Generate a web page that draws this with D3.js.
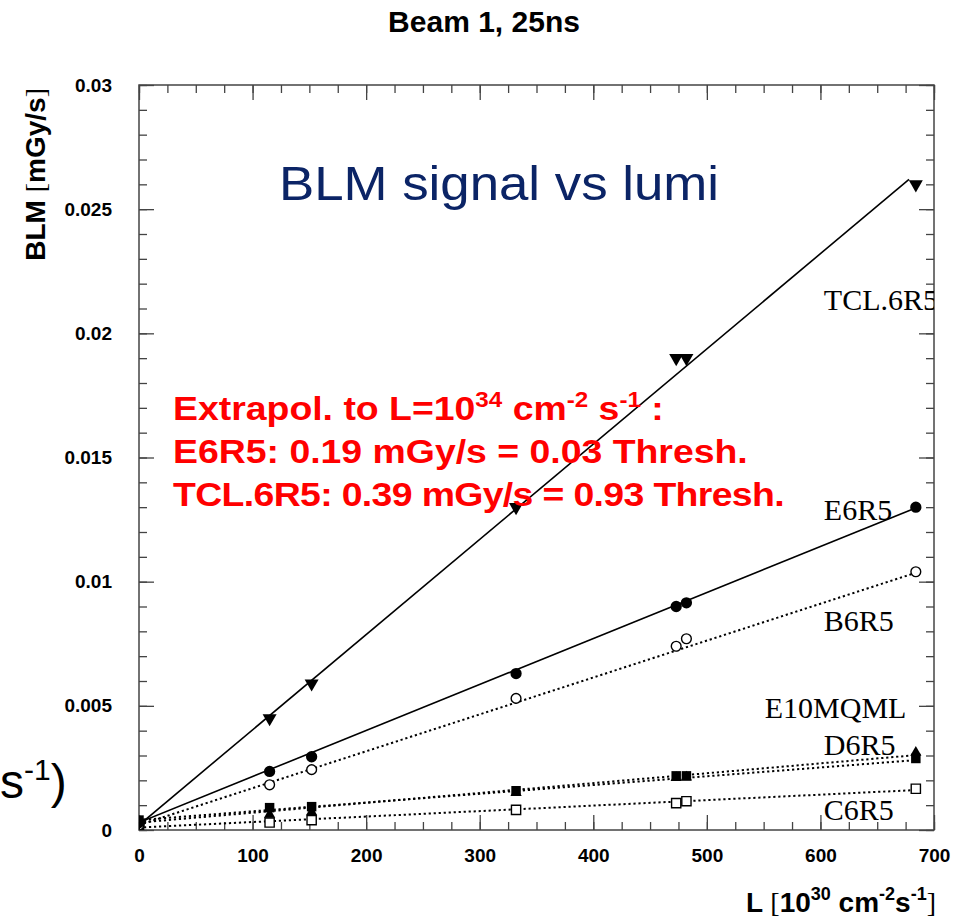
<!DOCTYPE html>
<meta charset="utf-8">
<style>
  body { margin: 0; background: #fff; }
  text { font-family: "Liberation Sans", Arial, sans-serif; }
  .tick text { font: bold 19px "Liberation Sans", Arial, sans-serif; fill: #000; }
  .tick line { stroke: #444; stroke-width: 1.3; }
  .lbl { font: 30px "Liberation Serif", "Times New Roman", serif; fill: #000; }
</style>
<svg width="966" height="918"></svg>
<script src="https://d3js.org/d3.v7.min.js"></script>
<script>

// luminosity [10^30 cm^-2 s^-1]
var lumi = [0, 115, 152, 332, 473, 482, 684];

// BLM signal [mGy/s] per monitor
var tcl6r5  = [0.0003, 0.0045, 0.0059, 0.0130, 0.0190, 0.0190, 0.0260];
var e6r5    = [0.0003, 0.00236, 0.00295, 0.0063, 0.0090, 0.00915, 0.0130];
var b6r5    = [0.0002, 0.00182, 0.00243, 0.0053, 0.0074, 0.0077, 0.0104];
var d6r5    = [0.0004, 0.00090, 0.00094, 0.00158, 0.00218, 0.00218, 0.00288];
var e10mqml = [0.0003, 0.00062, 0.00072, 0.00150, 0.00210, 0.00212, 0.00312];
var c6r5    = [0.0002, 0.00030, 0.00040, 0.00081, 0.00108, 0.00116, 0.00166];

// linear fits: [L start, value, L end, value]
var fitTcl  = [0, 0.0002, 678, 0.0262];
var fitE6   = [0, 0.0003, 680, 0.0129];
var fitB6   = [0, 0.0002, 680, 0.0103];
var fitD6   = [0, 0.0004, 680, 0.0028];
var fitE10  = [0, 0.0003, 680, 0.0030];
var fitC6   = [0, 0.0001, 680, 0.0016];

var xTicks = [0, 100, 200, 300, 400, 500, 600, 700];
var yTicks = [0, 0.005, 0.01, 0.015, 0.02, 0.025, 0.03];
var yTickLabels = ["0", "0.005", "0.01", "0.015", "0.02", "0.025", "0.03"];

var series = [
  {name: "TCL.6R5", values: tcl6r5,  fit: fitTcl, marker: "triDown",   dotted: false, at: [603, 0.02094]},
  {name: "E6R5",    values: e6r5,    fit: fitE6,  marker: "circle",    dotted: false, at: [603, 0.01250]},
  {name: "B6R5",    values: b6r5,    fit: fitB6,  marker: "openCircle", dotted: true, at: [603, 0.00800]},
  {name: "E10MQML", values: e10mqml, fit: fitE10, marker: "triUp",     dotted: true,  at: [551, 0.00452]},
  {name: "D6R5",    values: d6r5,    fit: fitD6,  marker: "square",    dotted: true,  at: [603, 0.00302]},
  {name: "C6R5",    values: c6r5,    fit: fitC6,  marker: "openSquare", dotted: true, at: [603, 0.00040]}
];

var svg = d3.select("svg"),
    margin = {top: 85, right: 32, bottom: 88, left: 139},
    width = +svg.attr("width"),
    height = +svg.attr("height");

var x = d3.scaleLinear()
    .domain([0, 700])
    .range([margin.left, width - margin.right]);

var y = d3.scaleLinear()
    .domain([0, 0.03])
    .range([height - margin.bottom, margin.top]);

svg.append("rect")
    .attr("width", width).attr("height", height)
    .attr("fill", "#fff");

svg.append("clipPath").attr("id", "plot")
  .append("rect")
    .attr("x", x(0)).attr("y", y(0.03))
    .attr("width", x(700) - x(0)).attr("height", y(0) - y(0.03));

// ticks, pointing inwards on all four sides
function noLabels(a) { return a.tickFormat(""); }

svg.append("g")
    .attr("transform", "translate(0," + y(0) + ")")
    .call(noLabels(d3.axisBottom(x).tickValues(d3.range(0, 701, 25)).tickSize(-8)));
svg.append("g")
    .attr("transform", "translate(0," + y(0) + ")")
    .call(d3.axisBottom(x).tickValues(xTicks).tickSize(-15).tickPadding(19));
svg.append("g")
    .attr("transform", "translate(0," + y(0.03) + ")")
    .call(noLabels(d3.axisTop(x).tickValues(d3.range(0, 701, 25)).tickSize(-8)));
svg.append("g")
    .attr("transform", "translate(0," + y(0.03) + ")")
    .call(noLabels(d3.axisTop(x).tickValues(xTicks).tickSize(-15)));

var yMinor = d3.range(0, 31).map(function(i) { return i / 1000; });

svg.append("g")
    .attr("transform", "translate(" + x(0) + ",0)")
    .call(noLabels(d3.axisLeft(y).tickValues(yMinor).tickSize(-8)));
svg.append("g")
    .attr("transform", "translate(" + x(0) + ",0)")
    .call(d3.axisLeft(y).tickValues(yTicks).tickSize(-15).tickPadding(27)
      .tickFormat(function(d, i) { return yTickLabels[i]; }));
svg.append("g")
    .attr("transform", "translate(" + x(700) + ",0)")
    .call(noLabels(d3.axisRight(y).tickValues(yMinor).tickSize(-8)));
svg.append("g")
    .attr("transform", "translate(" + x(700) + ",0)")
    .call(noLabels(d3.axisRight(y).tickValues(yTicks).tickSize(-15)));

svg.selectAll(".domain").remove();

svg.append("rect")
    .attr("x", x(0)).attr("y", y(0.03))
    .attr("width", x(700) - x(0)).attr("height", y(0) - y(0.03))
    .attr("fill", "none")
    .attr("stroke", "#444")
    .attr("stroke-width", 1.5);

var plot = svg.append("g").attr("clip-path", "url(#plot)");

// fit lines
plot.selectAll("line.fit")
  .data(series)
  .enter().append("line")
    .attr("class", "fit")
    .attr("x1", function(d) { return x(d.fit[0]); })
    .attr("y1", function(d) { return y(d.fit[1]); })
    .attr("x2", function(d) { return x(d.fit[2]); })
    .attr("y2", function(d) { return y(d.fit[3]); })
    .attr("stroke", "#000")
    .attr("stroke-width", function(d) { return d.dotted ? 2 : 1.6; })
    .attr("stroke-dasharray", function(d) { return d.dotted ? "2.2,2.8" : null; });

// markers
var triDown = d3.symbol().type(d3.symbolTriangle).size(85)();
var triUp = d3.symbol().type(d3.symbolTriangle).size(55)();

series.slice().reverse().forEach(function(s) {
  var g = plot.append("g");
  var pts = s.values.map(function(v, i) { return [lumi[i], v]; });
  var m = g.selectAll("path")
    .data(pts)
    .enter().append("path")
      .attr("transform", function(d) { return "translate(" + x(d[0]) + "," + y(d[1]) + ")"; });
  if (s.marker === "triDown") {
    m.attr("d", triDown).attr("transform", function(d) {
      return "translate(" + x(d[0]) + "," + y(d[1]) + ") rotate(180)"; }).attr("fill", "#000");
  } else if (s.marker === "triUp") {
    m.attr("d", triUp).attr("fill", "#000");
  } else if (s.marker === "circle") {
    m.attr("d", d3.symbol().type(d3.symbolCircle).size(100)()).attr("fill", "#000");
  } else if (s.marker === "openCircle") {
    m.attr("d", d3.symbol().type(d3.symbolCircle).size(75)())
      .attr("fill", "#fff").attr("stroke", "#000").attr("stroke-width", 1.4);
  } else if (s.marker === "square") {
    m.attr("d", d3.symbol().type(d3.symbolSquare).size(90)()).attr("fill", "#000");
  } else {
    m.attr("d", d3.symbol().type(d3.symbolSquare).size(85)())
      .attr("fill", "#fff").attr("stroke", "#000").attr("stroke-width", 1.4);
  }
});

// series names
plot.selectAll("text.lbl")
  .data(series)
  .enter().append("text")
    .attr("class", "lbl")
    .attr("x", function(d) { return x(d.at[0]); })
    .attr("y", function(d) { return y(d.at[1]); })
    .text(function(d) { return d.name; });

// titles
svg.append("text")
    .attr("x", 484).attr("y", 32)
    .attr("text-anchor", "middle")
    .style("font-weight", "bold").style("font-size", "30px")
    .text("Beam 1, 25ns");

svg.append("text")
    .attr("transform", "translate(279,200) scale(1.1,1)")
    .style("font-size", "48px")
    .attr("fill", "#0b2466")
    .text("BLM signal vs lumi");

var ylab = svg.append("text")
    .attr("transform", "translate(45,88) rotate(-90)")
    .attr("text-anchor", "end")
    .style("font-weight", "bold").style("font-size", "28px");
ylab.append("tspan").text("BLM ");
ylab.append("tspan").style("font-family", "Liberation Serif").style("font-weight", "normal").text("[");
ylab.append("tspan").text("mGy/s");
ylab.append("tspan").style("font-family", "Liberation Serif").style("font-weight", "normal").text("]");

var xlab = svg.append("text")
    .attr("x", 936).attr("y", 912)
    .attr("text-anchor", "end")
    .style("font-weight", "bold").style("font-size", "28px");
xlab.append("tspan").text("L ");
xlab.append("tspan").style("font-family", "Liberation Serif").style("font-weight", "normal").text("[");
xlab.append("tspan").text("10");
xlab.append("tspan").attr("dy", -12).style("font-size", "18px").text("30");
xlab.append("tspan").attr("dy", 12).text(" cm");
xlab.append("tspan").attr("dy", -12).style("font-size", "18px").text("-2");
xlab.append("tspan").attr("dy", 12).text("s");
xlab.append("tspan").attr("dy", -12).style("font-size", "18px").text("-1");
xlab.append("tspan").attr("dy", 12).style("font-family", "Liberation Serif").style("font-weight", "normal").text("]");

// red annotation
var red = svg.append("g")
    .attr("transform", "translate(173,0) scale(1.1,1)")
    .attr("fill", "#ff0000")
    .style("font-weight", "bold").style("font-size", "34px");
var l1 = red.append("text").attr("y", 420);
l1.append("tspan").text("Extrapol. to L=10");
l1.append("tspan").attr("dy", -13).style("font-size", "22px").text("34");
l1.append("tspan").attr("dy", 13).text(" cm");
l1.append("tspan").attr("dy", -13).style("font-size", "22px").text("-2");
l1.append("tspan").attr("dy", 13).text(" s");
l1.append("tspan").attr("dy", -13).style("font-size", "22px").text("-1");
l1.append("tspan").attr("dy", 13).text(" :");
red.append("text").attr("y", 463).text("E6R5: 0.19 mGy/s = 0.03 Thresh.");
red.append("text").attr("y", 506).attr("textLength", 556).text("TCL.6R5: 0.39 mGy/s = 0.93 Thresh.");

// leftover slide text at the edge
var frag = svg.append("text").attr("x", 0).attr("y", 798).style("font-size", "48px");
frag.append("tspan").text("s");
frag.append("tspan").attr("dy", -18).style("font-size", "30px").text("-1");
frag.append("tspan").attr("dy", 18).text(")");

</script>
